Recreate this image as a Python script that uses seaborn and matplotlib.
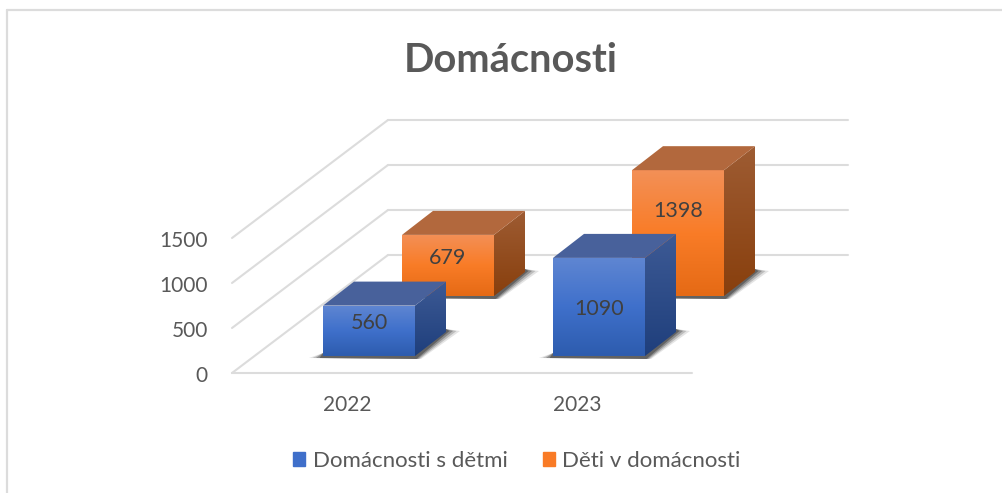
import matplotlib
matplotlib.use("Agg")
import matplotlib.pyplot as plt
from matplotlib.colors import LinearSegmentedColormap
from matplotlib.lines import Line2D
from matplotlib.patches import Patch, Polygon
from matplotlib.transforms import ScaledTranslation
import numpy as np
import pandas as pd
import seaborn as sns

years = ["2022", "2023"]
kids_homes = [560, 1090]
kids_in_homes = [679, 1398]
series_names = ["Domácnosti s dětmi", "Děti v domácnosti"]
y_ticks = [0, 500, 1000, 1500]

# pixel geometry of the fake 3d box
W, H = 1002, 493
AX_L, AX_R, AX_BOT, AX_TOP = 232, 692, 373, 238
PX_X = (AX_R - AX_L) / 2
PX_Y = (AX_BOT - AX_TOP) / 1500
WALL_DX, WALL_DY = 156, 118
BAR_DX, BAR_DY = 31, 24

GRID = "#dcdcdc"
TEXT = "#595959"
LABEL = "#404040"

styles = {
    series_names[0]: dict(shift=(22, 17), lift=[8, -2], base="#3f6fca",
                          front=["#5f86d2", "#3f70cb", "#2d5cae"],
                          side=["#3d5a95", "#1f3f7c"], top="#48619b"),
    series_names[1]: dict(shift=(101, 77), lift=[7, 22], base="#f97b26",
                          front=["#f39057", "#f97c27", "#e56a15"],
                          side=["#9e5c33", "#883f0d"], top="#b2683d"),
}


def dx(px):
    return px / PX_X


def dy(px):
    return px / PX_Y


def shaded_poly(ax, pts, colors, zorder):
    # vertical gradient clipped to a polygon
    pts = np.array(pts)
    cmap = LinearSegmentedColormap.from_list("g", colors)
    poly = Polygon(pts, closed=True, transform=ax.transData, fc="none", ec="none")
    ax.add_patch(poly)
    extent = [pts[:, 0].min(), pts[:, 0].max(), pts[:, 1].min(), pts[:, 1].max()]
    im = ax.imshow(np.linspace(1, 0, 128).reshape(-1, 1), extent=extent, cmap=cmap,
                   aspect="auto", origin="lower", zorder=zorder, interpolation="bilinear")
    # images get cropped to the axes box otherwise
    im.set_clip_box(ax.figure.bbox)
    im.set_clip_path(poly)


def draw_series(ax, name, values, zorder):
    st = styles[name]
    df = pd.DataFrame({"rok": years, "hodnota": values})
    n = len(ax.patches)
    sns.barplot(data=df, x="rok", y="hodnota", order=years, color=st["base"], width=0.4,
                saturation=1, ax=ax, zorder=zorder, clip_on=False, linewidth=0)
    bars = ax.patches[n:n + len(years)]
    sx, sy = dx(st["shift"][0]), dy(st["shift"][1])
    ddx, ddy = dx(BAR_DX), dy(BAR_DY)
    for bar, val, lift in zip(bars, values, st["lift"]):
        bar.set_x(bar.get_x() + sx)
        bar.set_y(sy)
        x0, x1 = bar.get_x(), bar.get_x() + bar.get_width()
        y0, y1 = sy, sy + val
        # soft shadow on the floor
        for grow, alpha in zip([1.0, 0.75, 0.5, 0.25], [0.12, 0.2, 0.3, 0.4]):
            ax.add_patch(Polygon(
                [(x0 - dx(14 * grow), y0 - dy(2)), (x1 + dx(6 * grow), y0 - dy(3)),
                 (x1 + ddx + dx(14 * grow), y0 + ddy + dy(1)), (x1 + ddx, y0 + ddy + dy(3)),
                 (x0, y0 + dy(3))],
                closed=True, fc="#222222", ec="none", alpha=alpha, zorder=zorder - 1, clip_on=False))
        shaded_poly(ax, [(x0, y0), (x1, y0), (x1, y1), (x0, y1)], st["front"], zorder + 0.2)
        shaded_poly(ax, [(x1, y0), (x1 + ddx, y0 + ddy), (x1 + ddx, y1 + ddy), (x1, y1)],
                    st["side"], zorder + 0.2)
        ax.add_patch(Polygon([(x0, y1), (x1, y1), (x1 + ddx, y1 + ddy), (x0 + ddx, y1 + ddy)],
                             closed=True, fc=st["top"], ec="none", zorder=zorder + 0.2, clip_on=False))
        ax.text((x0 + x1) / 2, (y0 + y1) / 2 + dy(lift), str(val), ha="center", va="center",
                fontsize=15.5, color=LABEL, zorder=zorder + 0.5)


sns.set_theme(style="white")
plt.rcParams["font.family"] = ["Lato", "DejaVu Sans"]

fig = plt.figure(figsize=(W / 100, H / 100), dpi=100)
ax = fig.add_axes([AX_L / W, 1 - AX_BOT / H, (AX_R - AX_L) / W, (AX_BOT - AX_TOP) / H])

# walls and floor
for tick in y_ticks:
    ax.plot([-0.5, -0.5 + dx(WALL_DX)], [tick, tick + dy(WALL_DY)], color=GRID, lw=1.5,
            clip_on=False, zorder=1)
    ax.plot([-0.5 + dx(WALL_DX), 1.5 + dx(WALL_DX)], [tick + dy(WALL_DY)] * 2, color=GRID, lw=1.5,
            clip_on=False, zorder=1)
ax.plot([-0.5, 1.5], [0, 0], color=GRID, lw=1.5, clip_on=False, zorder=1)

draw_series(ax, series_names[1], kids_in_homes, 3)
draw_series(ax, series_names[0], kids_homes, 5)

ax.set_xlim(-0.5, 1.5)
ax.set_ylim(0, 1500)
ax.set_yticks(y_ticks)
ax.set_xlabel("")
ax.set_ylabel("")
ax.tick_params(axis="both", length=0, labelsize=15, labelcolor=TEXT)
ax.tick_params(axis="y", pad=17.5)
ax.tick_params(axis="x", pad=16)
sns.despine(ax=ax, left=True, bottom=True)
ax.patch.set_alpha(0)
for lab in ax.get_yticklabels():
    lab.set_transform(lab.get_transform() + ScaledTranslation(0, -1 / 100, fig.dpi_scale_trans))

fig.text(511 / W, 1 - 60 / H, "Domácnosti", ha="center", va="center", fontsize=28.7,
         fontweight="bold", color=TEXT)

handles = [Patch(color=styles[n]["base"], label=n) for n in series_names]
fig.legend(handles=handles, loc="center", bbox_to_anchor=(517 / W, 1 - 461 / H), ncol=2, frameon=False,
           fontsize=16, labelcolor=TEXT, handlelength=0.55, handleheight=0.55, handletextpad=0.32,
           columnspacing=1.6)

# outer chart frame, only left and top are in the crop
fig.add_artist(Line2D([7 / W, 7 / W], [0, 1 - 10 / H], color=GRID, lw=1.6))
fig.add_artist(Line2D([7 / W, 1], [1 - 10 / H, 1 - 10 / H], color=GRID, lw=1.6))

fig.savefig("out.png", dpi=100)
